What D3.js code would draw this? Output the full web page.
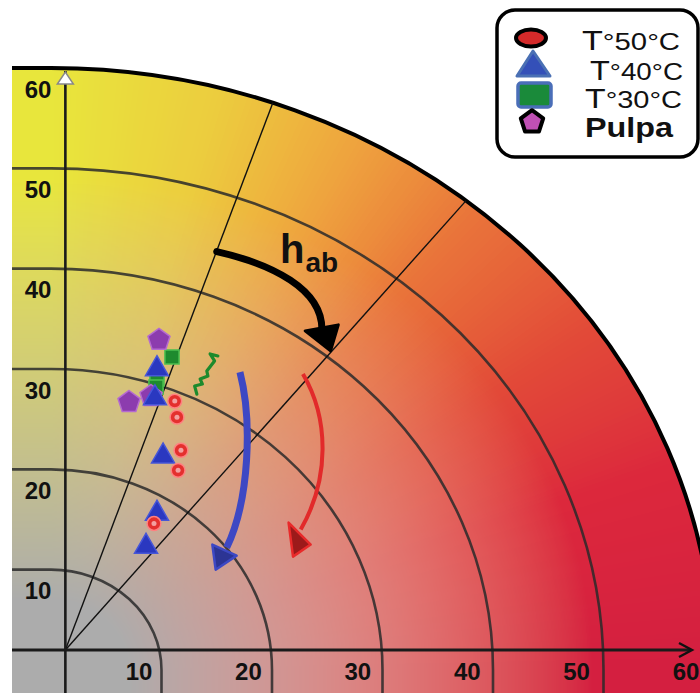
<!DOCTYPE html>
<html><head><meta charset="utf-8">
<script src="https://cdn.jsdelivr.net/npm/d3@7"></script>
<style>body{margin:0;background:#fff}svg{display:block}</style>
</head><body>
<script>
// ---------- data ----------
const tickValues = [10, 20, 30, 40, 50, 60];
const ringValues = [10, 20, 30, 40, 50];
const hueLineAngles = [71, 51];           // degrees
const seriesNames = ["T°50°C", "T°40°C", "T°30°C", "Pulpa"];
const pulpa = [[9.77, 32.9], [9.05, 27.3], [7.06, 26.7]];
const t30   = [[10.95, 31.2], [9.59, 29.0], [9.5, 28.2]];
const t40   = [[9.59, 30.2], [9.41, 27.3], [10.14, 21.5], [9.59, 15.8], [8.6, 12.5]];
const t50   = [[11.2, 26.8], [11.4, 25.2], [11.76, 21.9], [11.5, 19.9], [9.32, 14.6]];
// annotation paths (data units)
const habArrow  = [[15.0, 41.7], [19.8, 40.5], [24.8, 38.0], [24.5, 33.6]];
const habHead   = [[25.3, 31.8], [23.0, 33.8], [26.0, 34.4]];
const blueArrow = [[17.1, 29.7], [18.2, 25.0], [18.0, 17.0], [15.9, 12.2]];
const blueHead  = [[14.9, 10.0], [14.6, 12.5], [16.8, 11.4]];
const redArrow  = [[22.8, 29.5], [25.2, 25.0], [25.2, 19.0], [22.6, 14.0]];
const redHead   = [[21.9, 11.3], [21.5, 14.7], [23.5, 12.5]];
const greenSquiggle = [[15.1,31.3],[14.4,31.5],[14.8,30.8],[14.1,29.8],[14.2,29.3],[13.5,29.0],[13.7,28.5],[13.0,28.3],[13.2,27.5]];
const axisOrigin = [1.3, 2];

// ---------- layout ----------
const W = 700, H = 693;
const x = d3.scaleLinear().domain([0, 60]).range([51, 714]);
const y = d3.scaleLinear().domain([0, 60]).range([670, 68]);
const xLab = d3.scaleLinear().domain([0, 60]).range([29.7, 686]);
const yLab = d3.scaleLinear().domain([0, 60]).range([691, 89]);
const LEFT = 12;

const svg = d3.select("body").append("svg").attr("width", W).attr("height", H);

// ---------- background colour field ----------
const hueStops = [[0, "#d41f40"], [20, "#dc283c"], [35, "#e24a38"], [50, "#e9743a"], [62, "#eea23e"], [75, "#eccc3e"], [90, "#e8e63c"]];
const grayLab = d3.lab("#acacac");
function hueColor(th) {
  for (let i = 1; i < hueStops.length; i++) {
    if (th <= hueStops[i][0]) {
      const t = (th - hueStops[i-1][0]) / (hueStops[i][0] - hueStops[i-1][0]);
      return d3.lab(d3.interpolateLab(hueStops[i-1][1], hueStops[i][1])(t));
    }
  }
  return d3.lab(hueStops[hueStops.length-1][1]);
}
const NA = 181, NR = 481;
const lut = new Uint8ClampedArray(NA * NR * 3);
for (let i = 0; i < NA; i++) {
  const th = i * 0.5;
  const hc = hueColor(th);
  const bumpAmp = 6 * Math.cos(th * Math.PI / 180);
  for (let j = 0; j < NR; j++) {
    const r = j / 8;
    const t = Math.pow(Math.min(1, Math.max(0, (r - 7) / 42)), 0.95);
    const L = grayLab.l + (hc.l - grayLab.l) * t + bumpAmp * Math.sin(Math.PI * t);
    const c = d3.rgb(d3.lab(L, grayLab.a + (hc.a - grayLab.a) * t, grayLab.b + (hc.b - grayLab.b) * t));
    const k = (i * NR + j) * 3;
    lut[k] = c.r; lut[k+1] = c.g; lut[k+2] = c.b;
  }
}
const cv = document.createElement("canvas");
cv.width = W; cv.height = H;
const ctx = cv.getContext("2d");
const img = ctx.createImageData(W, H);
const topY = y(60);
for (let py = 0; py < H; py++) {
  for (let px = 0; px < W; px++) {
    const o = (py * W + px) * 4;
    const a = Math.max(0, x.invert(px)), b = Math.max(0, y.invert(py));
    const r = Math.hypot(a, b);
    if (px >= LEFT && py >= topY && r <= 60) {
      const th = Math.atan2(b, a) * 180 / Math.PI;
      const i = Math.round(th * 2), j = Math.min(NR - 1, Math.round(r * 8));
      const k = (i * NR + j) * 3;
      img.data[o] = lut[k]; img.data[o+1] = lut[k+1]; img.data[o+2] = lut[k+2]; img.data[o+3] = 255;
    } else {
      img.data[o] = 255; img.data[o+1] = 255; img.data[o+2] = 255; img.data[o+3] = 255;
    }
  }
}
ctx.putImageData(img, 0, 0);
svg.append("image").attr("href", cv.toDataURL()).attr("x", 0).attr("y", 0).attr("width", W).attr("height", H);

// ---------- grid rings ----------
function ringPath(r, tail) {
  const rx = x(r) - x(0), ry = y(0) - y(r);
  return `M${LEFT},${y(r)}L${x(0)},${y(r)}A${rx},${ry} 0 0 1 ${x(r)},${y(0)}` + (tail ? `L${x(r)},${H}` : "");
}
svg.append("g").selectAll("path").data(ringValues).join("path")
  .attr("d", d => ringPath(d, true))
  .attr("fill", "none").attr("stroke", "#2a2a2a").attr("stroke-width", 2.6).attr("stroke-opacity", 0.85);
svg.append("path").attr("d", ringPath(60, false))
  .attr("fill", "none").attr("stroke", "#000").attr("stroke-width", 4);

// ---------- hue lines ----------
const O = axisOrigin;
svg.append("g").selectAll("line").data(hueLineAngles).join("line")
  .each(function(deg) {
    const u = [Math.cos(deg * Math.PI / 180), Math.sin(deg * Math.PI / 180)];
    const ou = O[0]*u[0] + O[1]*u[1], oo = O[0]*O[0] + O[1]*O[1];
    const t = -ou + Math.sqrt(ou*ou - (oo - 3600));
    d3.select(this).attr("x1", x(O[0])).attr("y1", y(O[1]))
      .attr("x2", x(O[0] + t*u[0])).attr("y2", y(O[1] + t*u[1]));
  })
  .attr("stroke", "#111").attr("stroke-width", 1.4);

// ---------- axes ----------
const ax0 = x(O[0]), ay0 = y(O[1]);
svg.append("line").attr("x1", ax0).attr("x2", ax0).attr("y1", H).attr("y2", y(60) + 3)
  .attr("stroke", "#1a1a1a").attr("stroke-width", 2.6);
svg.append("line").attr("x1", LEFT).attr("x2", 691).attr("y1", ay0).attr("y2", ay0)
  .attr("stroke", "#1a1a1a").attr("stroke-width", 3);
svg.append("path").attr("d", `M679,${ay0-7}L692,${ay0}L679,${ay0+7}`)
  .attr("fill", "none").attr("stroke", "#111").attr("stroke-width", 2.4);
svg.append("path").attr("d", `M${ax0-8},${y(60)+16}L${ax0},${y(60)+4}L${ax0+8},${y(60)+16}Z`)
  .attr("fill", "#fff").attr("stroke", "#888").attr("stroke-width", 1.5);

// tick labels
const labStyle = s => s.attr("font-family", "Liberation Sans, Arial, sans-serif")
  .attr("font-size", 24).attr("font-weight", "bold").attr("fill", "#111").attr("text-anchor", "middle");
svg.append("g").selectAll("text").data(tickValues).join("text")
  .attr("x", 38).attr("y", d => yLab(d) + 8.5).text(d => d).call(labStyle);
svg.append("g").selectAll("text").data(tickValues).join("text")
  .attr("x", d => xLab(d)).attr("y", 680).text(d => d).call(labStyle);

// ---------- annotations ----------
function curve(pts) {
  const p = pts.map(d => [x(d[0]), y(d[1])]);
  return `M${p[0]}C${p[1]} ${p[2]} ${p[3]}`;
}
function head(pts) { return "M" + pts.map(d => [x(d[0]), y(d[1])]).join("L") + "Z"; }

svg.append("path").attr("d", curve(habArrow)).attr("fill", "none").attr("stroke", "#000")
  .attr("stroke-width", 7).attr("stroke-linecap", "round");
svg.append("path").attr("d", head(habHead)).attr("fill", "#000").attr("stroke", "#000")
  .attr("stroke-width", 3).attr("stroke-linejoin", "round");

svg.append("path").attr("d", curve(blueArrow)).attr("fill", "none").attr("stroke", "#3d48c4")
  .attr("stroke-width", 7);
svg.append("path").attr("d", head(blueHead)).attr("fill", "#2c3494").attr("stroke", "#3d48c4")
  .attr("stroke-width", 2.5).attr("stroke-linejoin", "round");

svg.append("path").attr("d", curve(redArrow)).attr("fill", "none").attr("stroke", "#e22a2a")
  .attr("stroke-width", 4);
svg.append("path").attr("d", head(redHead)).attr("fill", "#9c1a1a").attr("stroke", "#e82a2a")
  .attr("stroke-width", 2.5).attr("stroke-linejoin", "round");

svg.append("path").attr("d", d3.line().x(d => x(d[0])).y(d => y(d[1]))(greenSquiggle))
  .attr("fill", "none").attr("stroke", "#1d8a2c").attr("stroke-width", 3.2)
  .attr("stroke-linejoin", "round").attr("stroke-linecap", "round");

const ht = svg.append("text").attr("x", 280).attr("y", 263)
  .attr("font-family", "Liberation Sans, Arial, sans-serif").attr("font-weight", "bold").attr("fill", "#111");
ht.append("tspan").attr("font-size", 40).text("h");
ht.append("tspan").attr("font-size", 28).attr("dy", 9).attr("dx", 1).text("ab");

// ---------- markers ----------
const pentagon = { draw(c, size) {
  const r = Math.sqrt(size / 2.378);
  for (let i = 0; i < 5; i++) {
    const a = -Math.PI/2 + i * 2*Math.PI/5;
    if (i === 0) c.moveTo(r*Math.cos(a), r*Math.sin(a)); else c.lineTo(r*Math.cos(a), r*Math.sin(a));
  }
  c.closePath();
}};
const mk = svg.append("g");
mk.selectAll(".g30").data(t30).join("path").attr("class", "g30")
  .attr("transform", d => `translate(${x(d[0])},${y(d[1])})`)
  .attr("d", d3.symbol(d3.symbolSquare, 200))
  .attr("fill", "#1e8a2e").attr("stroke", "#4cc050").attr("stroke-width", 1.5);
mk.selectAll(".pu").data(pulpa).join("path").attr("class", "pu")
  .attr("transform", d => `translate(${x(d[0])},${y(d[1])})`)
  .attr("d", d3.symbol(pentagon, 320))
  .attr("fill", "#8c3cae").attr("stroke", "#b46ad0").attr("stroke-width", 1.5);
mk.selectAll(".t40").data(t40).join("path").attr("class", "t40")
  .attr("transform", d => `translate(${x(d[0])},${y(d[1])+2})`)
  .attr("d", d3.symbol(d3.symbolTriangle, 230))
  .attr("fill", "#2a38c0").attr("stroke", "#4656d8").attr("stroke-width", 1.5);
mk.selectAll(".t50").data(t50).join("path").attr("class", "t50")
  .attr("transform", d => `translate(${x(d[0])},${y(d[1])})`)
  .attr("d", d3.symbol(d3.symbolCircle, 150))
  .attr("fill", "#e4302e").attr("stroke", "#ff8080").attr("stroke-width", 1.5);
mk.selectAll(".t50c").data(t50).join("circle").attr("class", "t50c")
  .attr("cx", d => x(d[0])).attr("cy", d => y(d[1])).attr("r", 2.5)
  .attr("fill", "#f3a0a0");

// ---------- legend ----------
const lg = svg.append("g");
lg.append("rect").attr("x", 497).attr("y", 10).attr("width", 201).attr("height", 147).attr("rx", 18)
  .attr("fill", "#fff").attr("stroke", "#000").attr("stroke-width", 3.5);
lg.append("ellipse").attr("cx", 531).attr("cy", 38).attr("rx", 15).attr("ry", 8.5)
  .attr("fill", "#d42a2a").attr("stroke", "#000").attr("stroke-width", 4);
lg.append("path").attr("d", "M533,51L517,76L550,76Z")
  .attr("fill", "#3450b8").attr("stroke", "#4a70b4").attr("stroke-width", 3).attr("stroke-linejoin", "round");
lg.append("rect").attr("x", 518).attr("y", 83).attr("width", 33).attr("height", 24).attr("rx", 3)
  .attr("fill", "#1a8a3a").attr("stroke", "#4a6eb8").attr("stroke-width", 3.5);
lg.append("path").attr("transform", "translate(532,122)").attr("d", d3.symbol(pentagon, 330))
  .attr("fill", "#c050b4").attr("stroke", "#000").attr("stroke-width", 4).attr("stroke-linejoin", "round");

const legendPos = [[582, 50, 98], [590, 80, 93], [585, 108, 97]];
seriesNames.slice(0, 3).forEach((s, i) => {
  const t = lg.append("text").attr("x", legendPos[i][0]).attr("y", legendPos[i][1])
    .attr("font-family", "Liberation Sans, Arial, sans-serif").attr("fill", "#111")
    .attr("textLength", legendPos[i][2]).attr("lengthAdjust", "spacingAndGlyphs");
  t.append("tspan").attr("font-size", 28).text(s.slice(0, 1));
  t.append("tspan").attr("font-size", 24).text(s.slice(1));
});
lg.append("text").attr("x", 585).attr("y", 137).text(seriesNames[3])
  .attr("font-family", "Liberation Sans, Arial, sans-serif").attr("font-size", 28).attr("font-weight", "bold")
  .attr("fill", "#111").attr("textLength", 88).attr("lengthAdjust", "spacingAndGlyphs");
</script>
</body></html>
